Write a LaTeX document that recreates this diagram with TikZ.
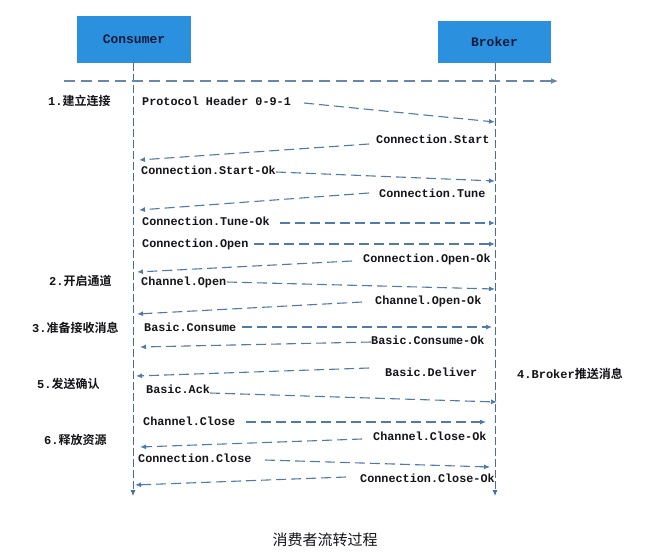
\documentclass[tikz,border=0pt]{standalone}
\usepackage{fontspec}
\setmonofont{Liberation Mono}
\newfontfamily\cjkb{Noto Sans CJK SC Bold}
\newfontfamily\cjkr{Noto Sans CJK SC}
\usetikzlibrary{arrows.meta}
\definecolor{boxblue}{RGB}{43,144,222}
\definecolor{lifeblue}{RGB}{66,110,160}
\definecolor{msgblue}{RGB}{80,122,170}
\definecolor{topgray}{RGB}{105,135,170}
\definecolor{txt}{RGB}{20,20,25}
\begin{document}
\begin{tikzpicture}[x=1pt,y=-1pt,
  actor/.style={fill=boxblue, draw=none, inner sep=0pt, font=\fontsize{13}{15}\selectfont\ttfamily\bfseries, text={rgb,255:red,15;green,25;blue,60}},
  lifeline/.style={draw=lifeblue, line width=0.9pt, dash pattern=on 8pt off 3pt, -{Latex[length=6pt,width=5pt]}},
  msg/.style={draw=msgblue, line width=1.1pt, dash pattern=on 10pt off 5pt, -{Latex[length=6pt,width=5pt]}},
  topline/.style={draw=topgray, line width=1.2pt, dash pattern=on 11pt off 6pt, -{Latex[length=7pt,width=6pt]}},
  lbl/.style={anchor=west, inner sep=0pt, text height=8pt, text depth=2pt, font=\fontsize{11.8}{14}\selectfont\ttfamily\bfseries, text=txt},
  phase/.style={anchor=west, inner sep=0pt, text height=9pt, text depth=2pt, font=\fontsize{12}{14}\selectfont\cjkb, text=txt},
  titlestyle/.style={inner sep=0pt, font=\fontsize{15}{18}\selectfont\cjkr, text=txt}]
\useasboundingbox[fill=white] (0,0) rectangle (647,557);

% actors
\node[actor, minimum width=114pt, minimum height=47pt] (consumer) at (134,39.5) {Consumer};
\node[actor, minimum width=113pt, minimum height=42pt] (broker) at (494.5,42) {Broker};

% lifelines
\coordinate (cTop) at (133,63);
\coordinate (cEnd) at (133,496);
\coordinate (bTop) at (495,63);
\coordinate (bEnd) at (495,496);
\draw[lifeline] (cTop) -- (cEnd);
\draw[lifeline] (bTop) -- (bEnd);

% top timeline
\coordinate (tS) at (64,81);
\coordinate (tE) at (558,81);
\draw[topline] (tS) -- (tE);

% phase labels
\node[phase] (p1) at (48,102) {{\ttfamily\bfseries 1.}建立连接};
\node[phase] (p2) at (49,282) {{\ttfamily\bfseries 2.}开启通道};
\node[phase] (p3) at (32,329) {{\ttfamily\bfseries 3.}准备接收消息};
\node[phase] (p4) at (517,375) {{\ttfamily\bfseries 4.Broker}推送消息};
\node[phase] (p5) at (37,385) {{\ttfamily\bfseries 5.}发送确认};
\node[phase] (p6) at (44,441) {{\ttfamily\bfseries 6.}释放资源};

% messages
\node[lbl] (m1) at (142,102) {Protocol Header 0-9-1};
\coordinate (m1s) at (304,103); \coordinate (m1e) at (495,122);
\draw[msg] (m1s) -- (m1e);

\node[lbl] (m2) at (376,140) {Connection.Start};
\coordinate (m2s) at (369,144); \coordinate (m2e) at (139,160);
\draw[msg] (m2s) -- (m2e);

\node[lbl] (m3) at (141,171) {Connection.Start-Ok};
\coordinate (m3s) at (276,172); \coordinate (m3e) at (495,181);
\draw[msg] (m3s) -- (m3e);

\node[lbl] (m4) at (379,194) {Connection.Tune};
\coordinate (m4s) at (369,193); \coordinate (m4e) at (139,210);
\draw[msg] (m4s) -- (m4e);

\node[lbl] (m5) at (142,222) {Connection.Tune-Ok};
\coordinate (m5s) at (280,223); \coordinate (m5e) at (495,223);
\draw[msg] (m5s) -- (m5e);

\node[lbl] (m6) at (142,244) {Connection.Open};
\coordinate (m6s) at (254,244); \coordinate (m6e) at (495,244);
\draw[msg] (m6s) -- (m6e);

\node[lbl] (m7) at (363,259) {Connection.Open-Ok};
\coordinate (m7s) at (352,261); \coordinate (m7e) at (137,272);
\draw[msg] (m7s) -- (m7e);

\node[lbl] (m8) at (141,282) {Channel.Open};
\coordinate (m8s) at (227,282); \coordinate (m8e) at (495,289);
\draw[msg] (m8s) -- (m8e);

\node[lbl] (m9) at (375,301) {Channel.Open-Ok};
\coordinate (m9s) at (362,302); \coordinate (m9e) at (137,314);
\draw[msg] (m9s) -- (m9e);

\node[lbl] (m10) at (144,328) {Basic.Consume};
\coordinate (m10s) at (242,327); \coordinate (m10e) at (492,327);
\draw[msg] (m10s) -- (m10e);

\node[lbl] (m11) at (371,341) {Basic.Consume-Ok};
\coordinate (m11s) at (371,342); \coordinate (m11e) at (140,347);
\draw[msg] (m11s) -- (m11e);

\node[lbl] (m12) at (385,373) {Basic.Deliver};
\coordinate (m12s) at (369,368); \coordinate (m12e) at (136,376);
\draw[msg] (m12s) -- (m12e);

\node[lbl] (m13) at (146,390) {Basic.Ack};
\coordinate (m13s) at (210,393); \coordinate (m13e) at (497,402);
\draw[msg] (m13s) -- (m13e);

\node[lbl] (m14) at (143,422) {Channel.Close};
\coordinate (m14s) at (246,422); \coordinate (m14e) at (486,422);
\draw[msg] (m14s) -- (m14e);

\node[lbl] (m15) at (373,437) {Channel.Close-Ok};
\coordinate (m15s) at (362,439); \coordinate (m15e) at (140,447);
\draw[msg] (m15s) -- (m15e);

\node[lbl] (m16) at (138,459) {Connection.Close};
\coordinate (m16s) at (265,460); \coordinate (m16e) at (490,467);
\draw[msg] (m16s) -- (m16e);

\node[lbl] (m17) at (360,479) {Connection.Close-Ok};
\coordinate (m17s) at (346,477); \coordinate (m17e) at (135,485);
\draw[msg] (m17s) -- (m17e);

% title
\node[titlestyle] (title) at (325,540) {消费者流转过程};
\end{tikzpicture}
\end{document}
